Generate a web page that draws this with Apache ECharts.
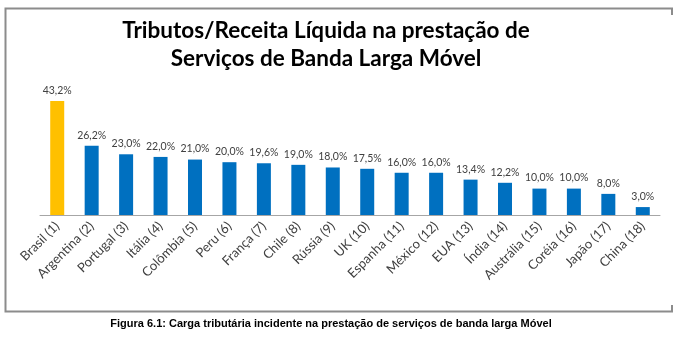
<!DOCTYPE html>
<html>
<head>
<meta charset="utf-8">
<script src="https://cdn.jsdelivr.net/npm/echarts@6/dist/echarts.min.js"></script>
<style>
  html, body { margin: 0; padding: 0; background: #fff; }
  #chart { width: 677px; height: 344px; }
</style>
</head>
<body>
<div id="chart"></div>
<script>
// Tax burden over net revenue, mobile broadband (%)
const categories = [
  'Brasil (1)', 'Argentina (2)', 'Portugal (3)', 'Itália (4)', 'Colômbia (5)',
  'Peru (6)', 'França (7)', 'Chile (8)', 'Rússia (9)', 'UK (10)',
  'Espanha (11)', 'México (12)', 'EUA (13)', 'Índia (14)', 'Austrália (15)',
  'Coréia (16)', 'Japão (17)', 'China (18)'
];
const values = [43.2, 26.2, 23.0, 22.0, 21.0, 20.0, 19.6, 19.0, 18.0, 17.5,
                16.0, 16.0, 13.4, 12.2, 10.0, 10.0, 8.0, 3.0];
const highlightIndex = 0;

const titleLines = [
  'Tributos/Receita Líquida na prestação de',
  'Serviços de Banda Larga Móvel'
];
const caption = 'Figura 6.1: Carga tributária incidente na prestação de serviços de banda larga Móvel';

const fmt = v => v.toFixed(1).replace('.', ',') + '%';

const chart = echarts.init(document.getElementById('chart'), null, { renderer: 'canvas' });

const frame = '#8c8c8c';
const bodyFont = 'Lato, "Open Sans", sans-serif';

chart.setOption({
  animation: false,
  backgroundColor: '#ffffff',
  grid: { left: 40, right: 17, top: 83, height: 132 },
  xAxis: {
    type: 'category',
    data: categories,
    axisLine: { lineStyle: { color: '#a6a6a6', width: 1 } },
    axisTick: { show: false },
    axisLabel: {
      interval: 0,
      rotate: 45,
      margin: 9,
      fontFamily: bodyFont,
      fontSize: 13,
      color: '#404040'
    }
  },
  yAxis: {
    type: 'value',
    min: 0,
    max: 50,
    show: false,
    splitLine: { show: false }
  },
  series: [{
    type: 'bar',
    barWidth: 14,
    data: values.map((v, i) => ({
      value: v,
      itemStyle: { color: i === highlightIndex ? '#FFC000' : '#0070C0' }
    })),
    label: {
      show: true,
      position: 'top',
      distance: 5,
      formatter: p => fmt(p.value),
      fontFamily: bodyFont,
      fontSize: 10.5,
      color: '#404040'
    }
  }],
  graphic: [
    // outer frame: top, left, bottom edges and short corner stubs on the right
    { type: 'polyline', shape: { points: [[672, 15], [672, 8.5], [5.5, 8.5], [5.5, 311.5], [672, 311.5], [672, 305]] },
      style: { stroke: frame, lineWidth: 2, fill: null } },
    { type: 'text', x: 326, y: 31, style: {
        text: titleLines[0], fontFamily: bodyFont, fontSize: 22.5, fontWeight: 'bold',
        fill: '#000', align: 'center', verticalAlign: 'middle' } },
    { type: 'text', x: 326, y: 59, style: {
        text: titleLines[1], fontFamily: bodyFont, fontSize: 22.5, fontWeight: 'bold',
        fill: '#000', align: 'center', verticalAlign: 'middle' } },
    { type: 'text', x: 331, y: 324, style: {
        text: caption, fontFamily: '"Liberation Sans Narrow", "Liberation Sans", Arial, sans-serif',
        fontSize: 11, fontWeight: 'bold', fill: '#000', align: 'center', verticalAlign: 'middle' } }
  ]
});
</script>
</body>
</html>
